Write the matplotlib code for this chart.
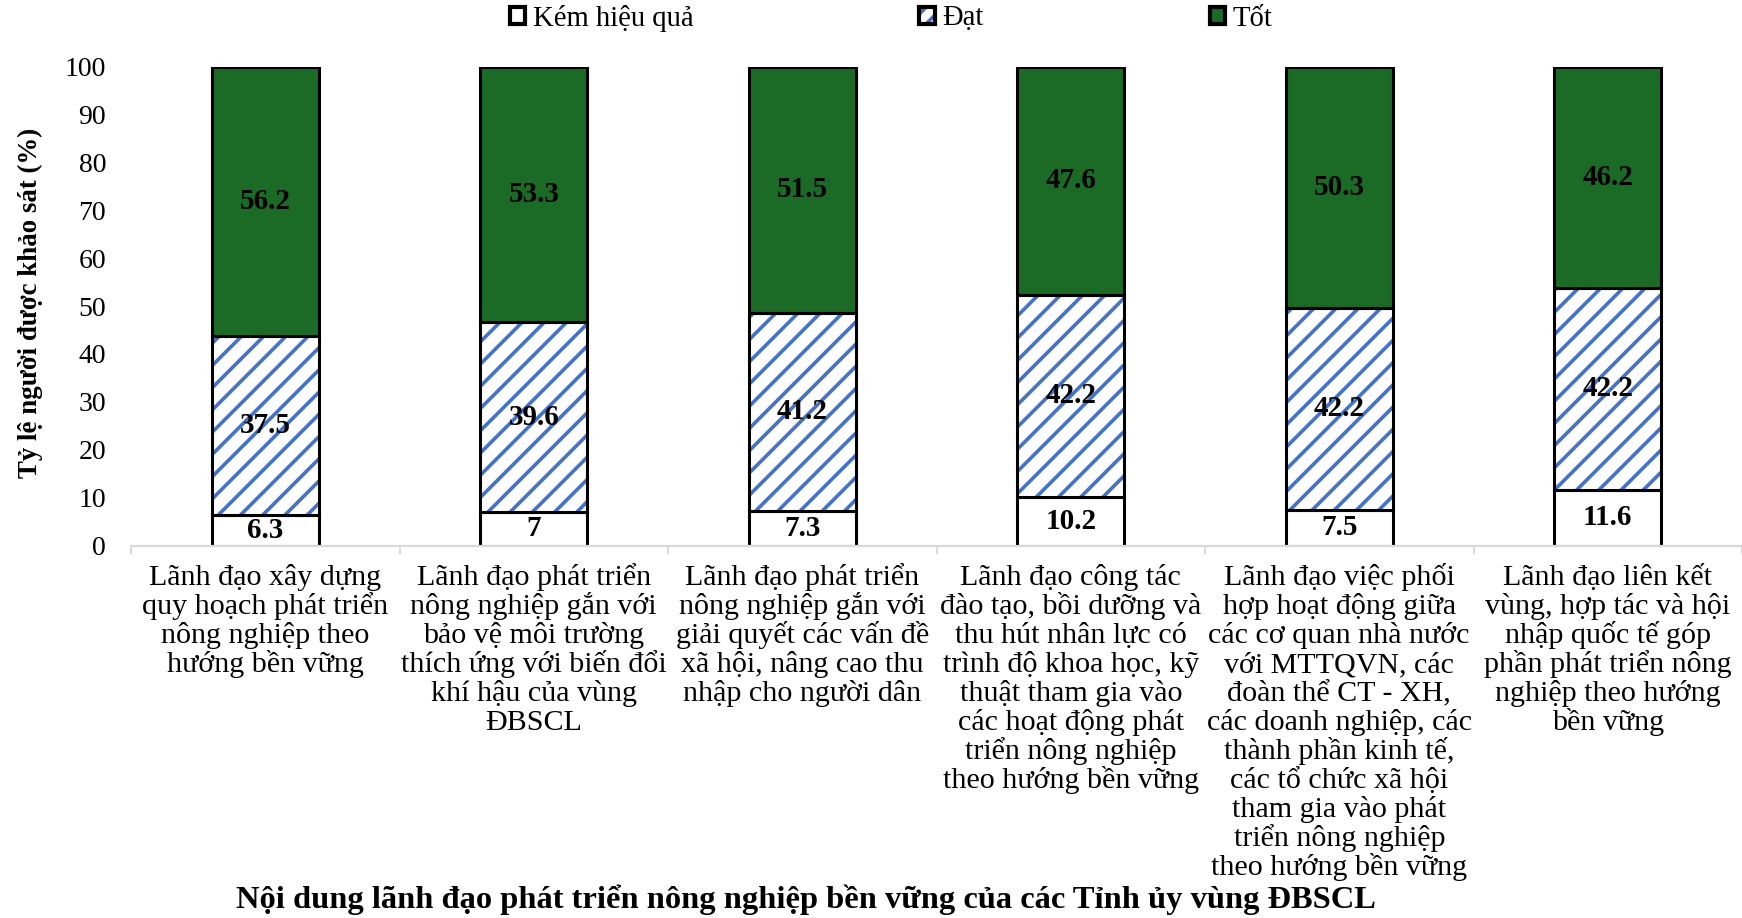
import matplotlib
matplotlib.use("Agg")
import matplotlib.pyplot as plt
from matplotlib.patches import Patch
from matplotlib.legend_handler import HandlerTuple
import matplotlib.transforms as mtransforms

plt.rcParams['font.family'] = ['Liberation Serif', 'DejaVu Serif']
plt.rcParams['hatch.linewidth'] = 1.3

categories = [
    "Lãnh đạo xây dựng\nquy hoạch phát triển\nnông nghiệp theo\nhướng bền vững",
    "Lãnh đạo phát triển\nnông nghiệp gắn với\nbảo vệ môi trường\nthích ứng với biến đổi\nkhí hậu của vùng\nĐBSCL",
    "Lãnh đạo phát triển\nnông nghiệp gắn với\ngiải quyết các vấn đề\nxã hội, nâng cao thu\nnhập cho người dân",
    "Lãnh đạo công tác\nđào tạo, bồi dưỡng và\nthu hút nhân lực có\ntrình độ khoa học, kỹ\nthuật tham gia vào\ncác hoạt động phát\ntriển nông nghiệp\ntheo hướng bền vững",
    "Lãnh đạo việc phối\nhợp hoạt động giữa\ncác cơ quan nhà nước\nvới MTTQVN, các\nđoàn thể CT - XH,\ncác doanh nghiệp, các\nthành phần kinh tế,\ncác tổ chức xã hội\ntham gia vào phát\ntriển nông nghiệp\ntheo hướng bền vững",
    "Lãnh đạo liên kết\nvùng, hợp tác và hội\nnhập quốc tế góp\nphần phát triển nông\nnghiệp theo hướng\nbền vững",
]
series_names = ["Kém hiệu quả", "Đạt", "Tốt"]
kem = [6.3, 7, 7.3, 10.2, 7.5, 11.6]
dat = [37.5, 39.6, 41.2, 42.2, 42.2, 42.2]
tot = [56.2, 53.3, 51.5, 47.6, 50.3, 46.2]
yticks = [0, 10, 20, 30, 40, 50, 60, 70, 80, 90, 100]
ylabel = "Tỷ lệ người được khảo sát (%)"
xlabel = "Nội dung lãnh đạo phát triển nông nghiệp bền vững của các Tỉnh ủy vùng ĐBSCL"

GREEN = '#1b6b26'
BLUE = '#4472C4'

W, H = 1742, 918
DPI = 200
fig = plt.figure(figsize=(W / DPI, H / DPI), dpi=DPI)
ax = fig.add_axes([131 / W, 1 - 545.5 / H, 1 - 131 / W, (545.5 - 66.7) / H])

x = list(range(len(categories)))
bw = 0.40
elw = 1.1

# Kém hiệu quả
ax.bar(x, kem, bw, color='white', edgecolor='black', linewidth=elw, zorder=2)
# Đạt (hatched)
bottoms2 = kem
ax.bar(x, dat, bw, bottom=bottoms2, color='white', edgecolor=BLUE, linewidth=0,
       hatch='///', zorder=2)
ax.bar(x, dat, bw, bottom=bottoms2, fill=False, edgecolor='black', linewidth=elw, zorder=3)
# Tốt
bottoms3 = [a + b for a, b in zip(kem, dat)]
ax.bar(x, tot, bw, bottom=bottoms3, color=GREEN, edgecolor='black', linewidth=elw, zorder=2)

# value labels
for i in x:
    for val, bot in ((kem[i], 0), (dat[i], kem[i]), (tot[i], bottoms3[i])):
        ax.text(i, bot + val / 2, f"{val:g}", ha='center', va='center',
                fontsize=10.5, fontweight='bold', zorder=4)

ax.set_xlim(-0.5, len(categories) - 0.5)
ax.set_ylim(0, 100)
ax.set_yticks(yticks)
ax.tick_params(axis='y', length=0, pad=9, labelsize=10)
ax.set_xticks([i - 0.5 for i in range(len(categories) + 1)])
ax.set_xticklabels([])
ax.tick_params(axis='x', length=3, width=0.7, color='#d9d9d9', direction='out')
for s in ['top', 'right', 'left']:
    ax.spines[s].set_visible(False)
ax.spines['bottom'].set_color('#d9d9d9')
ax.spines['bottom'].set_linewidth(0.8)

# category labels, line by line
trans = mtransforms.blended_transform_factory(ax.transData, fig.transFigure)
for i, lab in enumerate(categories):
    for j, line in enumerate(lab.split("\n")):
        ypx = 585 + j * 29.0
        ax.text(i, 1 - ypx / H, line, transform=trans, ha='center', va='baseline',
                fontsize=10.8, clip_on=False)

fig.text(30 / W, 1 - 303 / H, ylabel, rotation=90, ha='center', va='center',
         fontsize=9.7, fontweight='bold')
fig.text(806 / W, 1 - 900 / H, xlabel, ha='center', va='center',
         fontsize=11.7, fontweight='bold')

h_kem = Patch(facecolor='white', edgecolor='black', linewidth=1.5)
h_dat = (Patch(facecolor='white', edgecolor=BLUE, hatch='////', linewidth=0),
         Patch(fill=False, edgecolor='black', linewidth=1.5))
h_tot = Patch(facecolor=GREEN, edgecolor='black', linewidth=1.5)
fig.legend([h_kem, h_dat, h_tot], series_names, loc='center',
           bbox_to_anchor=(891 / W, 1 - 18 / H),
           ncol=3, frameon=False, fontsize=10.3, handlelength=0.55, handleheight=0.55,
           handletextpad=0.25, columnspacing=7.9, borderaxespad=0,
           handler_map={tuple: HandlerTuple(ndivide=1, pad=0)})

fig.savefig("out.png", dpi=DPI)
